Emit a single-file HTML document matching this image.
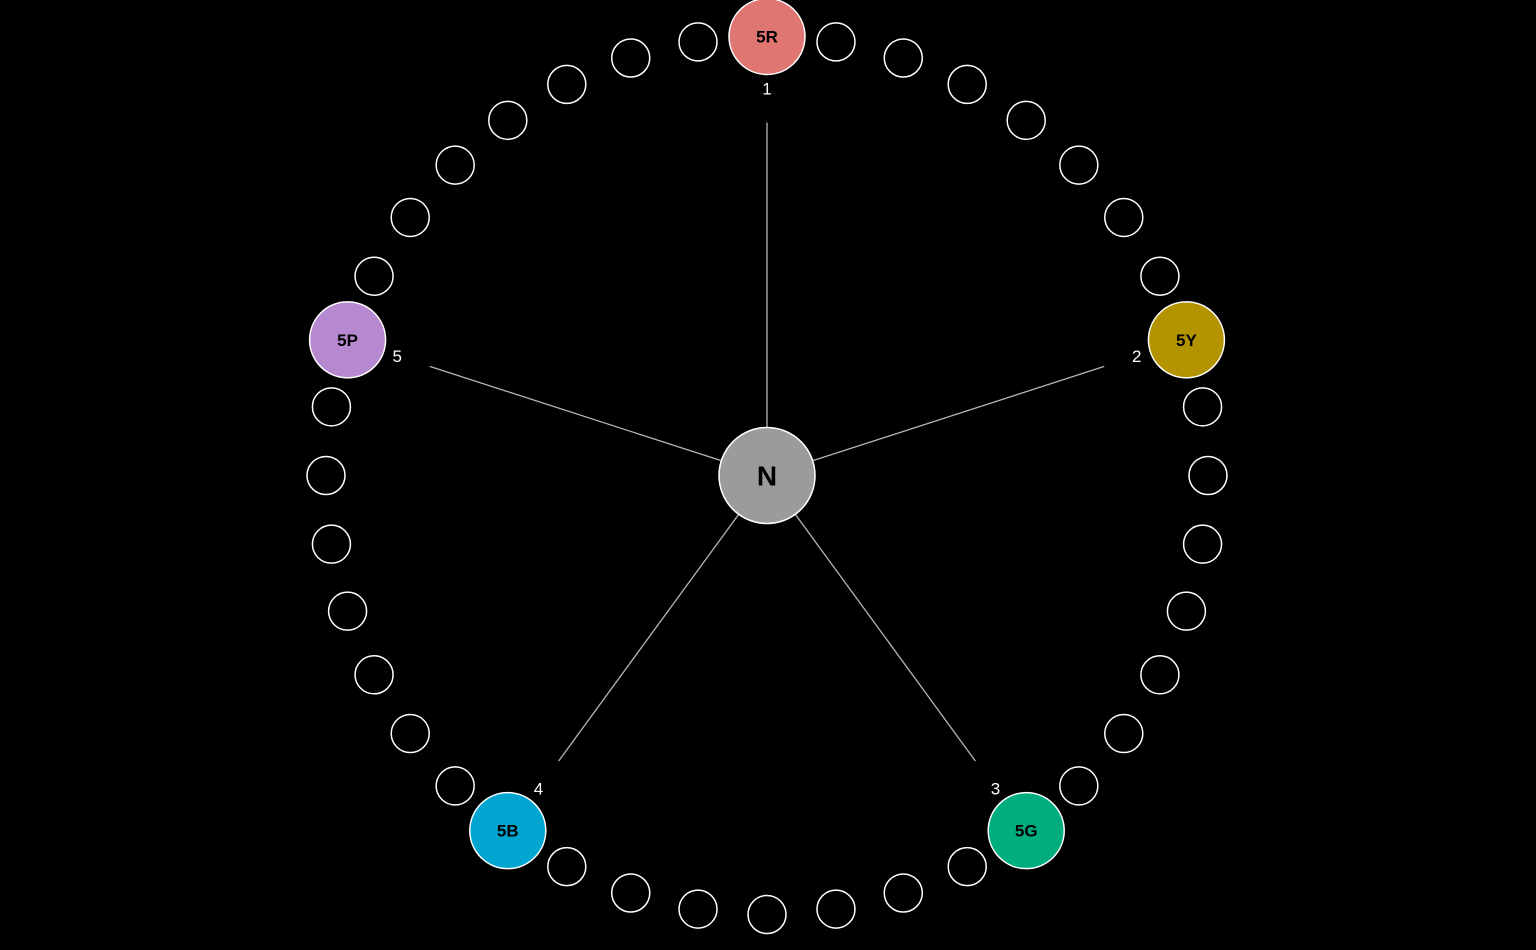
<!DOCTYPE html>
<html><head><meta charset="utf-8"><style>
html,body{margin:0;padding:0;background:#000;width:1536px;height:950px;overflow:hidden}
svg{display:block}
</style></head><body>
<svg id="chart" width="1536" height="950"></svg>
<script>
const hueNames = ["5R","5Y","5G","5B","5P"];
const hueColors = ["#e07672","#b39400","#00ad7e","#00a6d0","#b688cf"];
const hueLabels = ["1","2","3","4","5"];
const totalSlots = 40;
const centerName = "N";

const cx = 767, cy = 475.5, RX = 441, RY = 439;
const svg = document.getElementById('chart');
const NS = "http://www.w3.org/2000/svg";
function mk(tag, attrs){const e=document.createElementNS(NS,tag);for(const k in attrs)e.setAttribute(k,attrs[k]);svg.appendChild(e);return e;}
function pos(slot, r){const a=slot/totalSlots*2*Math.PI;return [cx+r*(RX/RY)*Math.sin(a), cy-r*Math.cos(a)];}
const step = totalSlots/hueNames.length;

hueNames.forEach((n,i)=>{
  const [x1,y1]=pos(i*step,48),[x2,y2]=pos(i*step,353);
  const l=mk('line',{x1,y1,x2,y2,stroke:'#b5b5b5','stroke-width':1.3});
  
  
});
for(let s=0;s<totalSlots;s++){
  if(s%step===0) continue;
  const [x,y]=pos(s,RY);
  const c=mk('circle',{cx:x,cy:y,r:19,fill:'none',stroke:'#fff','stroke-width':1.5});
  
  
}
hueNames.forEach((n,i)=>{
  const [x,y]=pos(i*step,RY);
  const c=mk('circle',{cx:x,cy:y,r:38,fill:hueColors[i],stroke:'#fff','stroke-width':1.5});
  
  
  const t=mk('text',{x:x,y:y+6,'text-anchor':'middle','font-family':'Liberation Sans, sans-serif','font-size':17,'font-weight':'bold',fill:'#000'});
  t.textContent=n;
  
  
  const [lx,ly]=pos(i*step,387);
  const t2=mk('text',{x:lx,y:ly+6,'text-anchor':'middle','font-family':'Liberation Sans, sans-serif','font-size':17,fill:'#fff'});
  t2.textContent=hueLabels[i];
  
  
});
const cc=mk('circle',{cx:cx,cy:cy,r:48,fill:'#9b9b9b',stroke:'#fff','stroke-width':1.5});


const ct=mk('text',{x:cx,y:cy+10,'text-anchor':'middle','font-family':'Liberation Sans, sans-serif','font-size':28,'font-weight':'bold',fill:'#000'});
ct.textContent=centerName;


</script>
</body></html>
